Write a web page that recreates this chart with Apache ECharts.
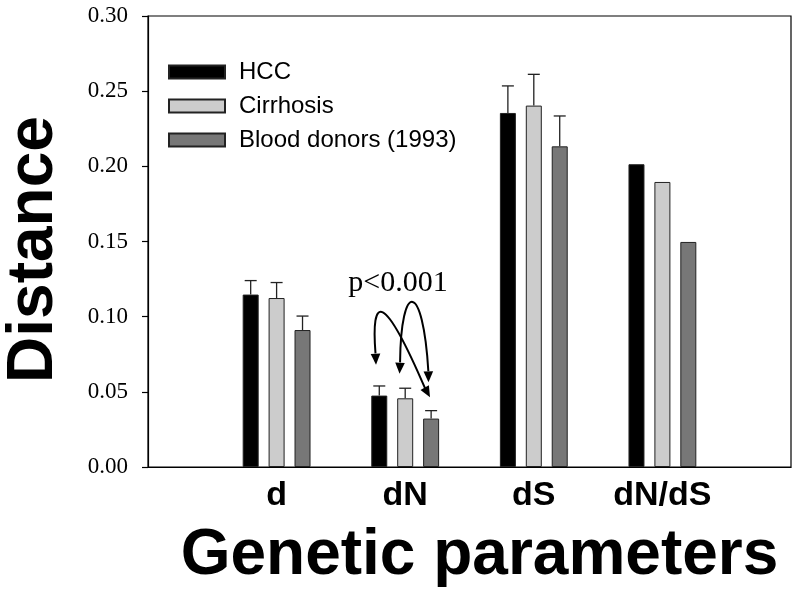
<!DOCTYPE html>
<html>
<head>
<meta charset="utf-8">
<script src="https://cdn.jsdelivr.net/npm/echarts@6/dist/echarts.min.js"></script>
<style>
html,body{margin:0;padding:0;background:#fff;}
#main{width:800px;height:595px;}
</style>
</head>
<body>
<div id="main"></div>
<script>
// ---- data ----
var categories = ['', 'd', 'dN', 'dS', 'dN/dS', ''];
var seriesNames = ['HCC', 'Cirrhosis', 'Blood donors (1993)'];
var hccValues   = [null, 0.1147, 0.0475, 0.2355, 0.2014, null];
var cirrValues  = [null, 0.1124, 0.0457, 0.2404, 0.1896, null];
var bloodValues = [null, 0.0911, 0.0322, 0.2133, 0.1497, null];
var hccErr   = [null, 0.0093, 0.0064, 0.0180, null, null];
var cirrErr  = [null, 0.0103, 0.0067, 0.0208, null, null];
var bloodErr = [null, 0.0093, 0.0053, 0.0202, null, null];
var yTicks = [0, 0.05, 0.10, 0.15, 0.20, 0.25, 0.30];
var pText = 'p<0.001';

var colors = ['#000000', '#cccccc', '#777777'];
var barW = 16, gapRatio = 0.62;
var pitch = barW * (1 + gapRatio);

var chart = echarts.init(document.getElementById('main'));

function errData(vals, errs) {
  var out = [];
  for (var i = 0; i < vals.length; i++) {
    if (vals[i] != null && errs[i] != null) out.push([i, vals[i], errs[i]]);
  }
  return out;
}

function errSeries(idx, vals, errs) {
  return {
    type: 'custom',
    name: seriesNames[idx] + ' error',
    z: 5,
    data: errData(vals, errs),
    encode: { x: 0, y: 1 },
    renderItem: function (params, api) {
      var c = api.value(0), v = api.value(1), e = api.value(2);
      var p0 = api.coord([c, v]);
      var p1 = api.coord([c, v + e]);
      var x = p0[0] + (idx - 1) * pitch;
      var cap = 6;
      return {
        type: 'group',
        children: [
          { type: 'line', shape: { x1: x, y1: p0[1], x2: x, y2: p1[1] },
            style: { stroke: '#222', lineWidth: 1.3 } },
          { type: 'line', shape: { x1: x - cap, y1: p1[1], x2: x + cap, y2: p1[1] },
            style: { stroke: '#222', lineWidth: 1.3 } }
        ]
      };
    }
  };
}

function barSeries(idx, vals) {
  return {
    type: 'bar',
    name: seriesNames[idx],
    data: vals,
    barWidth: barW,
    barGap: (gapRatio * 100) + '%',
    itemStyle: { color: colors[idx], borderColor: '#222', borderWidth: 1 },
    emphasis: { disabled: true }
  };
}

chart.setOption({
  animation: false,
  backgroundColor: '#fff',
  grid: { left: 148, right: 9, top: 16, bottom: 128, containLabel: false, outerBoundsMode: 'none',
          show: true, borderColor: '#000', borderWidth: 1.2, backgroundColor: 'transparent' },
  legend: {
    data: seriesNames,
    orient: 'vertical',
    left: 163, top: 55,
    itemWidth: 56, itemHeight: 13, itemGap: 10,
    icon: 'rect',
    selectedMode: false,
    textStyle: { fontFamily: 'Liberation Sans', fontSize: 24, color: '#000', lineHeight: 20, padding: [0, 0, 0, 9] }
  },
  xAxis: {
    type: 'category',
    data: categories,
    boundaryGap: false,
    axisLine: { lineStyle: { color: '#000', width: 1.2 } },
    axisTick: { show: false },
    splitLine: { show: false },
    axisLabel: { interval: 0, margin: 12, fontFamily: 'Liberation Sans', fontWeight: 'bold', fontSize: 34, color: '#000' },
    name: 'Genetic parameters',
    nameLocation: 'middle',
    nameGap: 57,
    nameTextStyle: { fontFamily: 'Liberation Sans', fontWeight: 'bold', fontSize: 64, color: '#000', padding: [0, 0, 0, 20] }
  },
  yAxis: {
    type: 'value',
    min: 0, max: 0.30, interval: 0.05,
    axisLine: { show: true, lineStyle: { color: '#000', width: 1.2 } },
    axisTick: { show: true, inside: false, length: 6, lineStyle: { color: '#000', width: 1.2 } },
    splitLine: { show: false },
    axisLabel: { margin: 20, fontFamily: 'Liberation Serif', fontSize: 23, color: '#000',
      formatter: function (v) { return v.toFixed(2); } },
    name: 'Distance',
    nameLocation: 'middle',
    nameGap: 82,
    nameTextStyle: { fontFamily: 'Liberation Sans', fontWeight: 'bold', fontSize: 64, color: '#000', padding: [0, 16, 0, 0] }
  },
  series: [
    barSeries(0, hccValues), barSeries(1, cirrValues), barSeries(2, bloodValues),
    errSeries(0, hccValues, hccErr), errSeries(1, cirrValues, cirrErr), errSeries(2, bloodValues, bloodErr)
  ]
});

// ---- significance annotation, anchored at the dN group ----
// points: [band offset from category centre, value]
var anchorCat = 'dN';
var arrowA = { p0: [-0.231, 0.0756], c1: [-0.266, 0.1142], c2: [-0.173, 0.1175], p3: [0.154, 0.0524],
               tip0: [-0.227, 0.0680], tip3: [0.193, 0.0464] };
var arrowB = { p0: [-0.040, 0.0696], c1: [-0.033, 0.1242], c2: [0.138, 0.1242], p3: [0.180, 0.0637],
               tip0: [-0.044, 0.0620], tip3: [0.181, 0.0563] };
var pTextPos = [-0.056, 0.1222];

var ci = categories.indexOf(anchorCat);
var cx = chart.convertToPixel({ xAxisIndex: 0 }, ci);
var band = chart.convertToPixel({ xAxisIndex: 0 }, ci + 1) - cx;
function px(pt) { return [cx + pt[0] * band, chart.convertToPixel({ yAxisIndex: 0 }, pt[1])]; }

function head(tipPt, basePt) {
  var t = px(tipPt), b = px(basePt);
  var dx = t[0] - b[0], dy = t[1] - b[1];
  var len = Math.sqrt(dx * dx + dy * dy);
  var ux = dx / len, uy = dy / len;
  var L = 11, H = 4.8;
  var bx = t[0] - ux * L, by = t[1] - uy * L;
  return { type: 'polygon', shape: { points: [t, [bx - uy * H, by + ux * H], [bx + uy * H, by - ux * H]] },
           style: { fill: '#000' }, z: 10 };
}
function arrow(a) {
  var p0 = px(a.p0), c1 = px(a.c1), c2 = px(a.c2), p3 = px(a.p3);
  return [
    { type: 'bezierCurve', shape: { x1: p0[0], y1: p0[1], cpx1: c1[0], cpy1: c1[1], cpx2: c2[0], cpy2: c2[1], x2: p3[0], y2: p3[1] },
      style: { stroke: '#000', lineWidth: 2, fill: null }, z: 10 },
    head(a.tip0, a.p0), head(a.tip3, a.p3)
  ];
}
var tp = px(pTextPos);
chart.setOption({
  graphic: [].concat(arrow(arrowA), arrow(arrowB), [
    { type: 'text', x: tp[0], y: tp[1], z: 10,
      style: { text: pText, fontFamily: 'Liberation Serif', fontSize: 30, fill: '#000', align: 'center', verticalAlign: 'middle' } }
  ])
});
</script>
</body>
</html>
